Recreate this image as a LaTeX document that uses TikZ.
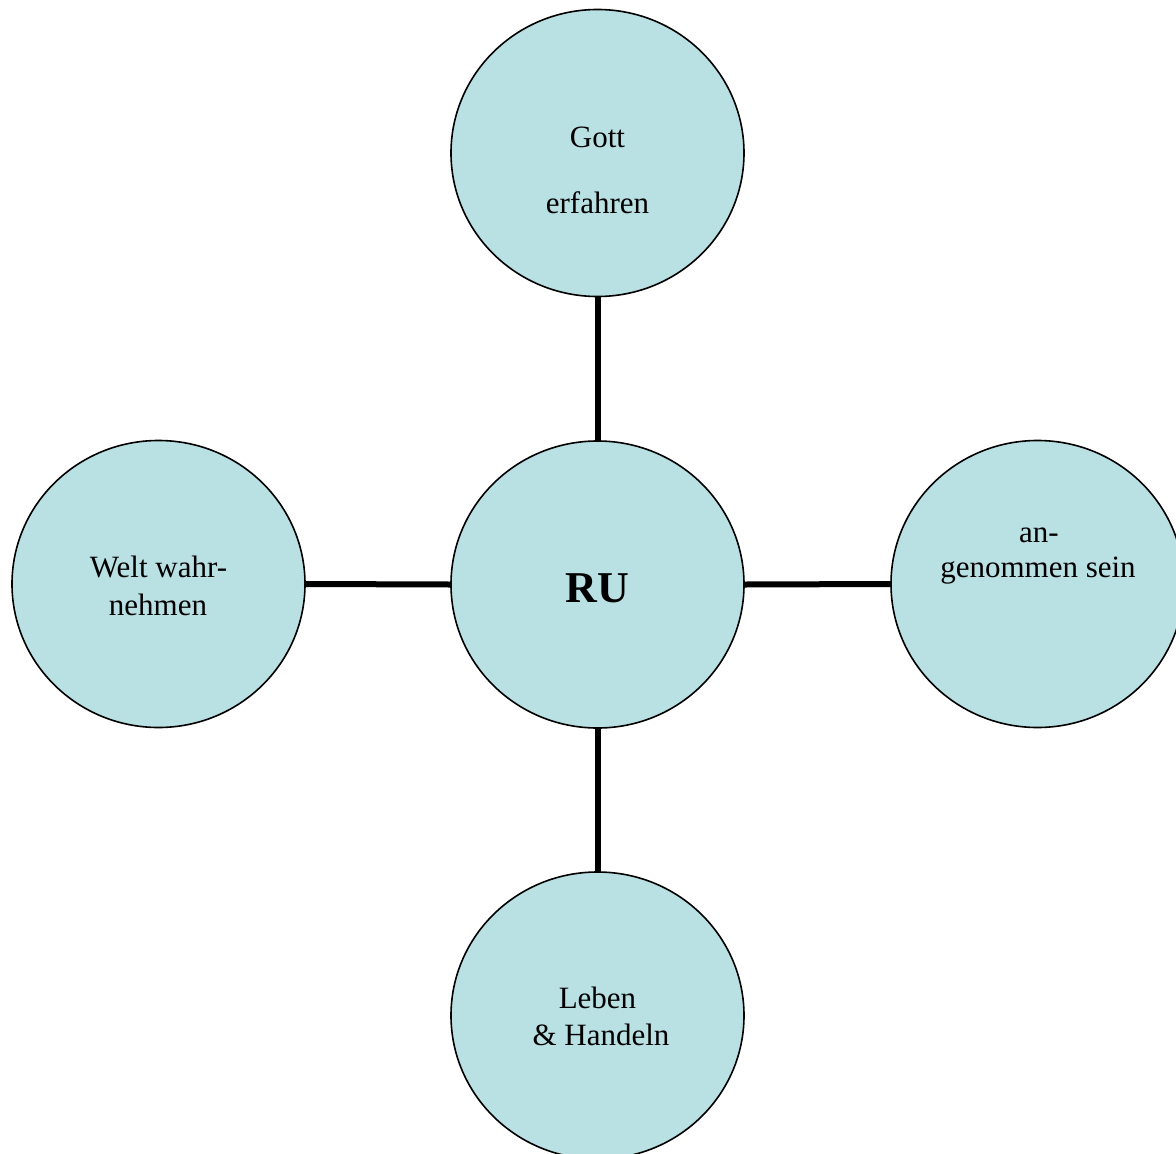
\documentclass[tikz,border=0pt]{standalone}
\usepackage{fontspec}
\setmainfont{Liberation Serif}
\usetikzlibrary{shapes.geometric}
\definecolor{bubble}{RGB}{185,224,227}
\begin{document}
\begin{tikzpicture}[x=1pt,y=-1pt,
  bubblenode/.style={ellipse,draw=black,line width=1.6pt,fill=bubble,
    minimum width=293pt,minimum height=287pt,inner sep=0pt},
  txt/.style={anchor=base,inner sep=0pt,font=\fontsize{31}{38}\selectfont},
  boldtxt/.style={anchor=base,inner sep=0pt,font=\fontsize{44}{50}\selectfont\bfseries},
  link/.style={line width=6pt}]
\useasboundingbox (0,0) rectangle (1176,1154);
\clip (0,0) rectangle (1176,1154);
\node[bubblenode] (top) at (597.5,153) {};
\node[bubblenode] (mid) at (597.5,584.5) {};
\node[bubblenode] (left) at (158.5,584) {};
\node[bubblenode] (right) at (1037.5,584) {};
\node[bubblenode] (bot) at (597.5,1015.5) {};
\draw[link] (top.south) -- (mid.north);
\draw[link] (mid.south) -- (bot.north);
\draw[link] (left.east) -- (mid.west);
\draw[link] (mid.east) -- (right.west);
\node[txt] (t1) at (597.5,147) {Gott};
\node[txt] (t2) at (597.5,213) {erfahren};
\node[txt] (r1) at (1039,542) {an-};
\node[txt] (r2) at (1038,577) {genommen sein};
\node[txt] (l1) at (158.5,577) {Welt wahr-};
\node[txt] (l2) at (158,615) {nehmen};
\node[txt] (b1) at (597.5,1008) {Leben};
\node[txt] (b2) at (601,1045) {\& Handeln};
\node[boldtxt] (ru) at (597.5,602) {RU};
\end{tikzpicture}
\end{document}
